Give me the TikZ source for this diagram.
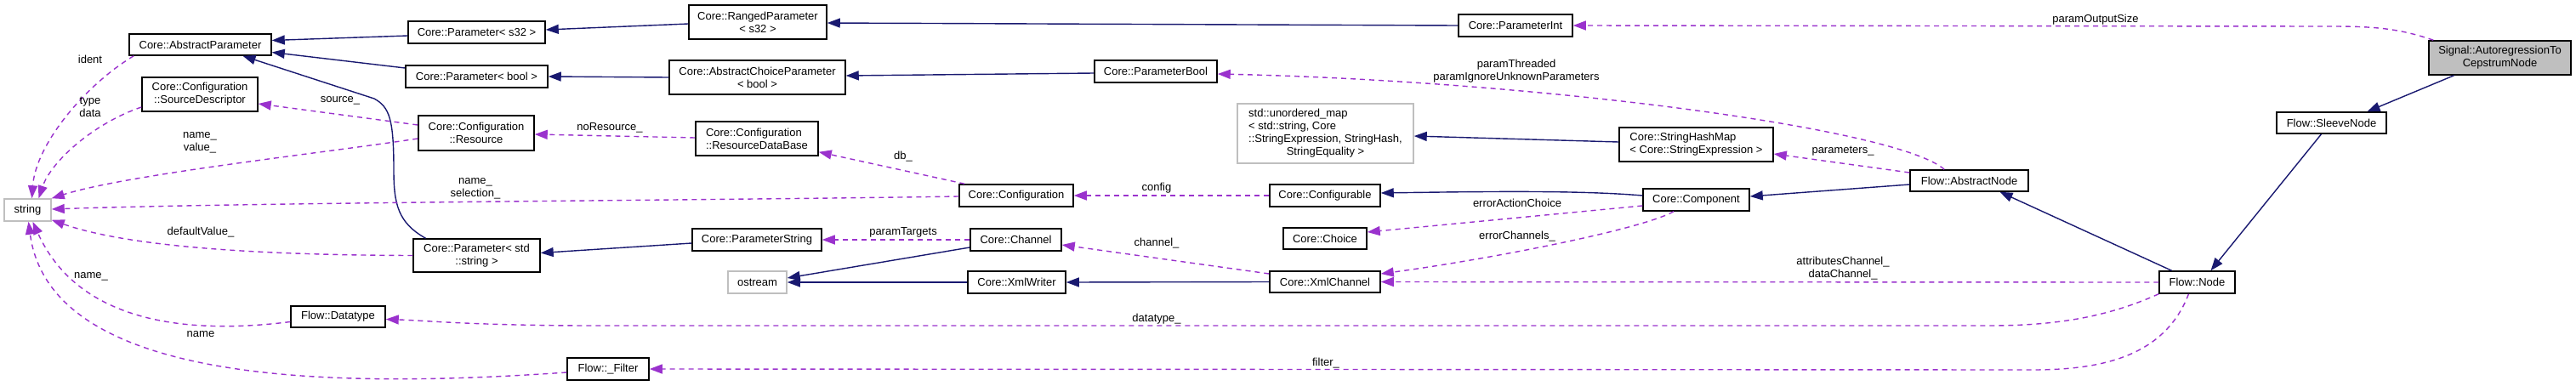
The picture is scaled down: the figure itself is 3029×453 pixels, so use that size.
\documentclass[tikz,border=0pt]{standalone}
\usepackage{fontspec}
\setmainfont{Liberation Sans}
\usetikzlibrary{arrows.meta,calc}
\definecolor{inhcol}{HTML}{191970}
\definecolor{usecol}{HTML}{9A32CD}
\definecolor{grayb}{HTML}{BFBFBF}
\begin{document}
\begin{tikzpicture}[x=1pt,y=-1pt,
  font=\fontsize{13}{15}\selectfont,
  cls/.style={draw=black, fill=white, line width=1.5pt, inner sep=0pt, align=center, minimum height=25pt},
  ext/.style={cls, draw=grayb},
  inh/.style={draw=inhcol, line width=1.4pt, -{Triangle[length=15pt,width=11pt]}},
  use/.style={draw=usecol, line width=1.4pt, dash pattern=on 6pt off 5pt, -{Triangle[length=15pt,width=11pt]}},
  lbl/.style={inner sep=0pt, align=center}]
\useasboundingbox (0,0) rectangle (3029,453);

% nodes
\node[cls, fill=grayb, minimum width=167pt, minimum height=40pt] (sig) at (2939.5,68) {Signal::AutoregressionTo\\CepstrumNode};
\node[cls, minimum width=129pt] (sleeve) at (2741.5,144.5) {Flow::SleeveNode};
\node[cls, minimum width=89pt, minimum height=26pt] (fnode) at (2583.5,332) {Flow::Node};
\node[cls, minimum width=139pt] (absnode) at (2315.5,212.5) {Flow::AbstractNode};
\node[cls, minimum width=134pt, minimum height=26pt] (pint) at (1782,30) {Core::ParameterInt};
\node[cls, minimum width=144pt, minimum height=26pt] (pbool) at (1359,84) {Core::ParameterBool};
\node[ext, minimum width=207pt, minimum height=70pt] (umap) at (1558.5,157) {\begin{tabular}{@{}l@{}}std::unordered\_map\\< std::string, Core\\::StringExpression, StringHash,\\\multicolumn{1}{@{}c@{}}{StringEquality >}\end{tabular}};
\node[cls, minimum width=181pt, minimum height=40pt, align=left] (shm) at (1994.5,170) {Core::StringHashMap\\< Core::StringExpression >};
\node[cls, minimum width=130pt, minimum height=26pt] (configurable) at (1558,230) {Core::Configurable};
\node[cls, minimum width=125pt, minimum height=26pt] (component) at (1994.5,235) {Core::Component};
\node[cls, minimum width=98pt] (choice) at (1558,280.5) {Core::Choice};
\node[cls, minimum width=130pt] (xmlch) at (1558,331.5) {Core::XmlChannel};
\node[cls, minimum width=162pt, minimum height=40pt] (ranged) at (891,26) {Core::RangedParameter\\< s32 >};
\node[cls, minimum width=207pt, minimum height=40pt] (achoice) at (890.5,91) {Core::AbstractChoiceParameter\\< bool >};
\node[cls, minimum width=144pt, minimum height=40pt, align=left] (rdb) at (890,163) {Core::Configuration\\::ResourceDataBase};
\node[cls, minimum width=134pt, minimum height=26pt] (config) at (1195,230) {Core::Configuration};
\node[cls, minimum width=152pt, minimum height=26pt] (pstring) at (890,282) {Core::ParameterString};
\node[cls, minimum width=107pt, minimum height=26pt] (channel) at (1194.5,282) {Core::Channel};
\node[ext, minimum width=69pt, minimum height=26pt] (ostream) at (890.5,332) {ostream};
\node[cls, minimum width=115pt, minimum height=26pt] (xmlwriter) at (1195.5,332) {Core::XmlWriter};
\node[cls, minimum width=161pt, minimum height=26pt] (ps32) at (560.5,38) {Core::Parameter< s32 >};
\node[cls, minimum width=167pt, minimum height=26pt] (pboolp) at (560.5,90) {Core::Parameter< bool >};
\node[cls, minimum width=136pt, minimum height=41pt] (resource) at (560,156.5) {Core::Configuration\\::Resource};
\node[cls, minimum width=149pt, minimum height=39pt] (pstd) at (560.5,300.5) {Core::Parameter< std\\::string >};
\node[cls, minimum width=167pt] (absparam) at (235.5,52.5) {Core::AbstractParameter};
\node[cls, minimum width=136pt, minimum height=40pt] (srcdesc) at (235,111) {Core::Configuration\\::SourceDescriptor};
\node[ext, minimum width=55pt, minimum height=26pt] (string) at (32.5,247) {string};
\node[cls, minimum width=111pt] (datatype) at (397.5,372.5) {Flow::Datatype};
\node[cls, minimum width=96pt, minimum height=26pt] (filter) at (715,434) {Flow::\_Filter};

% inheritance
\draw[inh] ($(ps32.west)+(0,4)$) -- ($(absparam.east)+(0,-5)$);
\draw[inh] ($(pboolp.west)+(0,-10)$) -- ($(absparam.east)+(0,9)$);
\draw[inh] ($(pstd.north)+(-60,0)$) .. controls (468,262) and (463,240) .. (463,200) .. controls (463,140) and (458,126) .. (440,116) -- ($(absparam.south)+(50,0)$);
\draw[inh] ($(ranged.west)+(0,2)$) -- ($(ps32.east)+(0,-3)$);
\draw[inh] (achoice.west) -- (pboolp.east);
\draw[inh] (pint.west) -- ($(ranged.east)+(0,1)$);
\draw[inh] ($(pbool.west)+(0,2)$) -- ($(achoice.east)+(0,-2)$);
\draw[inh] ($(pstring.west)+(0,4)$) -- ($(pstd.east)+(0,-3)$);
\draw[inh] ($(channel.west)+(0,9)$) -- ($(ostream.east)+(0,-5)$);
\draw[inh] (xmlwriter.west) -- (ostream.east);
\draw[inh] (xmlch.west) -- (xmlwriter.east);
\draw[inh] ($(shm.west)+(0,-3)$) -- ($(umap.east)+(0,3)$);
\draw[inh] ($(component.west)+(0,-5)$) .. controls (1860,224) and (1760,225) .. ($(configurable.east)+(0,-3)$);
\draw[inh] ($(absnode.west)+(0,4.5)$) -- ($(component.east)+(0,-4)$);
\draw[inh] ($(fnode.north)+(-30,0)$) -- ($(absnode.south)+(36,0)$);
\draw[inh] ($(sleeve.south)+(-12,0)$) -- ($(fnode.north)+(16,0)$);
\draw[inh] ($(sig.south)+(-54,0)$) -- ($(sleeve.north)+(42,0)$);

% usage
\draw[use] ($(sig.north west)+(6,0)$) .. controls (2820,33) and (2790,31) .. (2740,31) -- (pint.east);
\draw[use] ($(absnode.north west)+(41,0)$) .. controls (2230,150) and (1800,95) .. ($(pbool.east)+(0,3)$);
\draw[use] ($(absnode.west)+(0,-9.5)$) -- ($(shm.east)+(0,11)$);
\draw[use] ($(component.west)+(0,7)$) -- ($(choice.east)+(0,-7.5)$);
\draw[use] ($(component.south)+(-26.5,0)$) .. controls (1930,270) and (1750,305) .. ($(xmlch.east)+(0,-9.5)$);
\draw[use] (fnode.west) -- (xmlch.east);
\draw[use] (fnode.south west) .. controls (2480,372) and (2420,383) .. (2340,383) -- (700,383) .. controls (560,383) and (500,377) .. ($(datatype.east)+(0,3)$);
\draw[use] ($(fnode.south)+(-10,0)$) .. controls (2545,420) and (2470,435) .. (2390,435) -- (filter.east);
\draw[use] ($(xmlch.west)+(0,-9.5)$) -- ($(channel.east)+(0,6)$);
\draw[use] (channel.west) -- (pstring.east);
\draw[use] (configurable.west) -- (config.east);
\draw[use] ($(config.north west)+(7,0)$) -- ($(rdb.south east)+(0,-5)$);
\draw[use] ($(config.west)+(0,1)$) .. controls (800,236) and (300,238) .. ($(string.east)+(0,-1)$);
\draw[use] ($(rdb.west)+(0,-1)$) -- ($(resource.east)+(0,1.5)$);
\draw[use] ($(resource.west)+(0,-9.5)$) -- ($(srcdesc.east)+(0,11)$);
\draw[use] ($(resource.west)+(0,6.5)$) .. controls (380,180) and (150,205) .. (string.north east);
\draw[use] ($(srcdesc.west)+(0,15)$) .. controls (110,145) and (60,190) .. ($(string.north)+(13,0)$);
\draw[use] ($(absparam.south west)+(6,0)$) .. controls (100,100) and (42,170) .. ($(string.north)+(5,0)$);
\draw[use] (pstd.west) .. controls (300,300) and (150,290) .. ($(string.south east)+(0,-2)$);
\draw[use] ($(datatype.west)+(0,6)$) .. controls (210,395) and (90,375) .. ($(string.south)+(6,0)$);
\draw[use] ($(filter.west)+(0,4)$) .. controls (420,455) and (60,460) .. ($(string.south)+(1,0)$);

% labels
\node[lbl] (l1) at (106,70) {ident};
\node[lbl] (l2) at (106,126) {type\\data};
\node[lbl] (l3) at (235,168) {name\_\\value\_};
\node[lbl] (l4) at (400,118) {source\_};
\node[lbl] (l5) at (717,150) {noResource\_};
\node[lbl] (l6) at (559,222) {name\_\\selection\_};
\node[lbl] (l7) at (236,273) {defaultValue\_};
\node[lbl] (l8) at (107,325) {name\_};
\node[lbl] (l9) at (236,393) {name};
\node[lbl] (l10) at (1062,184) {db\_};
\node[lbl] (l11) at (1360,221) {config};
\node[lbl] (l12) at (1062,273) {paramTargets};
\node[lbl] (l13) at (1360,286) {channel\_};
\node[lbl] (l14) at (1360,375) {datatype\_};
\node[lbl] (l15) at (1559,427) {filter\_};
\node[lbl] (l16) at (1784,239) {errorActionChoice};
\node[lbl] (l17) at (1784,278) {errorChannels\_};
\node[lbl] (l18) at (2167,316) {attributesChannel\_\\dataChannel\_};
\node[lbl] (l19) at (2167,178) {parameters\_};
\node[lbl] (l20) at (1783,84) {paramThreaded\\paramIgnoreUnknownParameters};
\node[lbl] (l21) at (2464,23) {paramOutputSize};
\end{tikzpicture}
\end{document}
